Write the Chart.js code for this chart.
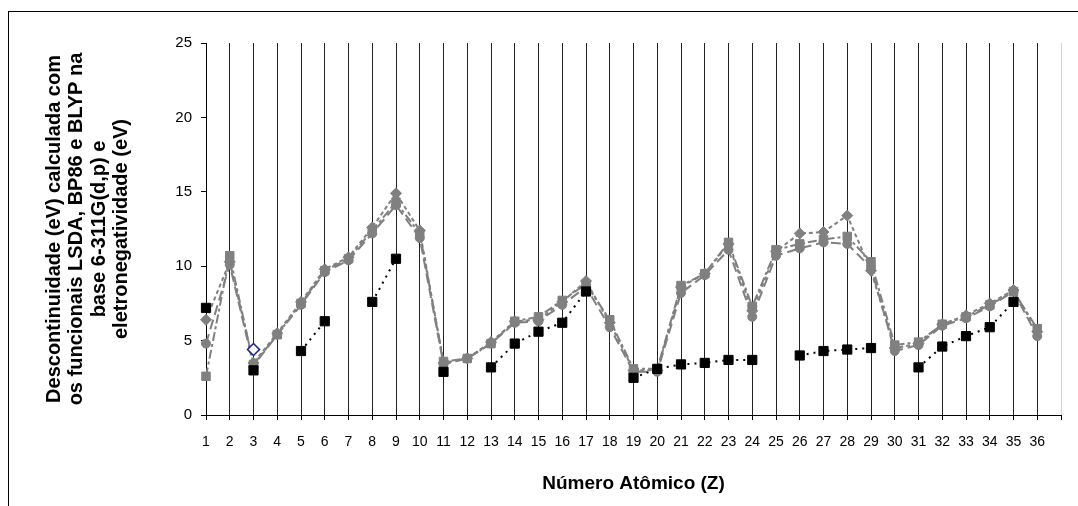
<!DOCTYPE html>
<html>
<head>
<meta charset="utf-8">
<script src="https://cdn.jsdelivr.net/npm/chart.js@4"></script>
<style>
  body { margin: 0; background: #fff; }
  #wrap { width: 1078px; height: 506px; }
</style>
</head>
<body>
<div id="wrap"><canvas id="chart" width="1078" height="506"></canvas></div>
<script>
const atomicNumbers = [1,2,3,4,5,6,7,8,9,10,11,12,13,14,15,16,17,18,19,20,21,22,23,24,25,26,27,28,29,30,31,32,33,34,35,36];

const eletroneg = [7.2, null, 3.0, null, 4.3, 6.3, null, 7.6, 10.5, null, 2.9, null, 3.2, 4.8, 5.6, 6.2, 8.3, null,
  2.5, 3.1, 3.4, 3.5, 3.7, 3.7, null, 4.0, 4.3, 4.4, 4.5, null, 3.2, 4.6, 5.3, 5.9, 7.6, null];
const lsda = [6.4, 10.3, 3.5, 5.5, 7.6, 9.8, 10.6, 12.6, 14.9, 12.4, 3.5, 3.8, 4.9, 6.3, 6.4, 7.6, 9.0, 6.2,
  3.0, 3.0, 8.6, 9.5, 11.5, 7.0, 11.0, 12.2, 12.3, 13.4, 9.7, 4.5, 4.8, 6.1, 6.7, 7.5, 8.4, 5.6];
const bp86 = [2.6, 10.7, 3.4, 5.4, 7.5, 9.7, 10.5, 12.4, 14.3, 12.2, 3.6, 3.8, 4.8, 6.3, 6.6, 7.7, 8.8, 6.4,
  3.1, 3.1, 8.7, 9.5, 11.6, 7.3, 11.1, 11.5, 11.8, 12.0, 10.3, 4.7, 4.9, 6.1, 6.6, 7.4, 8.3, 5.8];
const blyp = [4.8, 10.1, 3.3, 5.4, 7.4, 9.6, 10.4, 12.2, 14.1, 11.9, 3.4, 3.8, 4.8, 6.2, 6.3, 7.4, 8.6, 5.9,
  2.9, 2.9, 8.2, 9.4, 11.1, 6.6, 10.7, 11.2, 11.6, 11.5, 9.9, 4.3, 4.7, 6.0, 6.5, 7.3, 8.3, 5.3];
// single highlighted point (open blue diamond at Z = 3)
const destaqueZ = [3];
const destaque = [4.4];

const yTicks = [0, 5, 10, 15, 20, 25];

const toPoints = (xs, ys) => xs.map((x, i) => ({ x: x, y: ys[i] }));

const grey = "#808080";
const fontFamily = "'Liberation Sans', Arial, sans-serif";

const frame = {
  id: "frame",
  beforeDraw(chart) {
    const c = chart.ctx;
    c.save();
    c.fillStyle = "#fff";
    c.fillRect(0, 0, chart.width, chart.height);
    c.strokeStyle = "#000";
    c.lineWidth = 1;
    c.strokeRect(8.5, 11.5, 1200, 600);
    c.restore();
  }
};

new Chart(document.getElementById("chart"), {
  type: "line",
  data: {
    datasets: [
      {
        label: "Eletronegatividade",
        data: toPoints(atomicNumbers, eletroneg),
        borderColor: "#000",
        backgroundColor: "#000",
        borderWidth: 2,
        borderDash: [2, 5],
        pointStyle: "rect",
        pointRadius: 6.5,
        pointBorderWidth: 1,
        clip: false
      },
      {
        label: "Destaque",
        data: toPoints(destaqueZ, destaque),
        showLine: false,
        borderColor: "#1a1a96",
        backgroundColor: "#fff",
        pointStyle: "rectRot",
        pointRadius: 6,
        pointBorderWidth: 1.5,
        clip: false
      },
      {
        label: "LSDA",
        data: toPoints(atomicNumbers, lsda),
        borderColor: grey,
        backgroundColor: grey,
        borderWidth: 2,
        borderDash: [4, 3],
        pointStyle: "rectRot",
        pointRadius: 5.5,
        pointBorderWidth: 1,
        clip: false
      },
      {
        label: "BP86",
        data: toPoints(atomicNumbers, bp86),
        borderColor: grey,
        backgroundColor: grey,
        borderWidth: 2,
        borderDash: [9, 3, 3, 3],
        pointStyle: "rect",
        pointRadius: 6,
        pointBorderWidth: 1,
        clip: false
      },
      {
        label: "BLYP",
        data: toPoints(atomicNumbers, blyp),
        borderColor: grey,
        backgroundColor: grey,
        borderWidth: 2,
        borderDash: [10, 5],
        pointStyle: "circle",
        pointRadius: 4.5,
        pointBorderWidth: 1,
        clip: false
      }
    ]
  },
  options: {
    responsive: false,
    animation: false,
    spanGaps: false,
    layout: { padding: { left: 0, right: 17, top: 43, bottom: 0 } },
    plugins: {
      legend: { display: false },
      tooltip: { enabled: false }
    },
    scales: {
      x: {
        type: "linear",
        min: 1,
        max: 37,
        afterFit: s => { s.height = 91; },
        border: { color: "#000", width: 1 },
        grid: {
          color: ctx => (ctx.tick && ctx.tick.value === 37 ? "#d4d4d4" : "#222"),
          tickColor: "#000",
          tickLength: 5,
          lineWidth: 1
        },
        ticks: {
          stepSize: 1,
          autoSkip: false,
          maxRotation: 0,
          padding: 14,
          color: "#000",
          font: { family: fontFamily, size: 14 },
          callback: v => (v <= 36 ? v : "")
        },
        title: {
          display: true,
          text: "Número Atômico (Z)",
          color: "#000",
          font: { family: fontFamily, size: 19, weight: "bold", lineHeight: 1.2 },
          padding: { top: 0, bottom: 11 }
        }
      },
      y: {
        min: 0,
        max: 25,
        afterFit: s => { s.width = 206; },
        afterBuildTicks: s => { s.ticks = yTicks.map(v => ({ value: v })); },
        border: { color: "#000", width: 1 },
        grid: {
          drawOnChartArea: false,
          drawTicks: true,
          tickLength: 5,
          color: "#000"
        },
        ticks: {
          padding: 9,
          color: "#000",
          font: { family: fontFamily, size: 15 }
        },
        title: {
          display: true,
          text: [
            "Descontinuidade (eV) calculada com",
            "os funcionais LSDA, BP86 e BLYP na",
            "base 6-311G(d,p) e",
            "eletronegatividade (eV)"
          ],
          color: "#000",
          font: { family: fontFamily, size: 20, weight: "bold", lineHeight: 1.125 },
          padding: { top: 43, bottom: 0 }
        }
      }
    }
  },
  plugins: [frame]
});
</script>
</body>
</html>
